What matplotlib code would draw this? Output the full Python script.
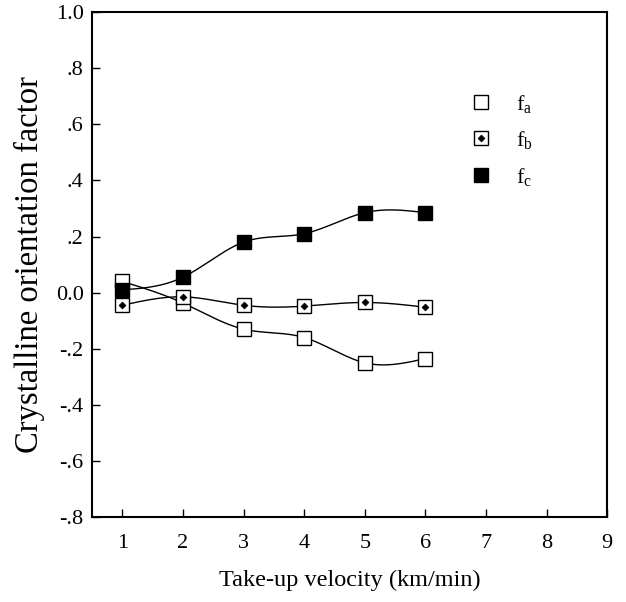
import numpy as np
import matplotlib.pyplot as plt
from matplotlib.legend_handler import HandlerTuple

plt.rcParams['font.family'] = 'Liberation Serif'
plt.rcParams['mathtext.fontset'] = 'custom'
plt.rcParams['mathtext.rm'] = 'Liberation Serif'
plt.rcParams['mathtext.it'] = 'Liberation Serif'

# data
velocity = [1, 2, 3, 4, 5, 6]
f_a = [0.040, -0.037, -0.130, -0.160, -0.250, -0.235]
f_b = [-0.045, -0.015, -0.045, -0.048, -0.035, -0.052]
f_c = [0.010, 0.055, 0.180, 0.210, 0.285, 0.285]

yticks = [-0.8, -0.6, -0.4, -0.2, 0.0, 0.2, 0.4, 0.6, 0.8, 1.0]
ytick_labels = ['-.8', '-.6', '-.4', '-.2', '0.0', '.2', '.4', '.6', '.8', '1.0']
xticks = [1, 2, 3, 4, 5, 6, 7, 8, 9]


def spline(x, y, n=200):
    # natural cubic spline, only used to draw the smooth connecting line
    x = np.asarray(x, float)
    y = np.asarray(y, float)
    k = len(x)
    h = np.diff(x)
    A = np.zeros((k, k))
    r = np.zeros(k)
    A[0, 0] = A[-1, -1] = 1
    for i in range(1, k - 1):
        A[i, i - 1] = h[i - 1]
        A[i, i] = 2 * (h[i - 1] + h[i])
        A[i, i + 1] = h[i]
        r[i] = 3 * ((y[i + 1] - y[i]) / h[i] - (y[i] - y[i - 1]) / h[i - 1])
    c = np.linalg.solve(A, r)
    xs = np.linspace(x[0], x[-1], n)
    idx = np.clip(np.searchsorted(x, xs) - 1, 0, k - 2)
    dx = xs - x[idx]
    b = (y[1:] - y[:-1]) / h - h * (2 * c[:-1] + c[1:]) / 3
    d = (c[1:] - c[:-1]) / (3 * h)
    ys = y[idx] + b[idx] * dx + c[idx] * dx ** 2 + d[idx] * dx ** 3
    return xs, ys


fig = plt.figure(figsize=(6.26, 6.02), dpi=100)
ax = fig.add_axes([0.147, 0.141, 0.823, 0.839])

for series in (f_a, f_b, f_c):
    xs, ys = spline(velocity, series)
    ax.plot(xs, ys, color='black', lw=1.0, zorder=2)

ms = 9.5
h_a, = ax.plot(velocity, f_a, 's', ms=ms, mfc='white', mec='black', mew=1.0, zorder=3)
h_b1, = ax.plot(velocity, f_b, 's', ms=ms, mfc='white', mec='black', mew=1.0, zorder=3)
h_b2, = ax.plot(velocity, f_b, 'D', ms=3.5, mfc='black', mec='black', mew=0.5, zorder=4)
h_c, = ax.plot(velocity, f_c, 's', ms=ms, mfc='black', mec='black', mew=1.0, zorder=5)

ax.legend([h_a, (h_b1, h_b2), h_c], ['f$_\\mathrm{a}$', 'f$_\\mathrm{b}$', 'f$_\\mathrm{c}$'],
          handler_map={tuple: HandlerTuple(ndivide=1, pad=0)},
          loc='upper left', bbox_to_anchor=(0.69, 0.88), frameon=False,
          fontsize=16, handlelength=1.2, handletextpad=1.0, labelspacing=0.65)

ax.set_xlim(0.5, 9)
ax.set_ylim(-0.8, 1.0)
ax.set_xticks(xticks)
ax.set_yticks(yticks)
ax.set_yticklabels(ytick_labels)
ax.tick_params(axis='both', direction='in', length=6, width=1, labelsize=16)
ax.tick_params(axis='x', pad=12)
ax.tick_params(axis='y', pad=6)
for s in ax.spines.values():
    s.set_linewidth(1.5)

ax.set_xlabel('Take-up velocity (km/min)', fontsize=17.5, labelpad=12)
ax.set_ylabel('Crystalline orientation factor', fontsize=23.5, labelpad=8)

plt.savefig('out.png', dpi=100)
